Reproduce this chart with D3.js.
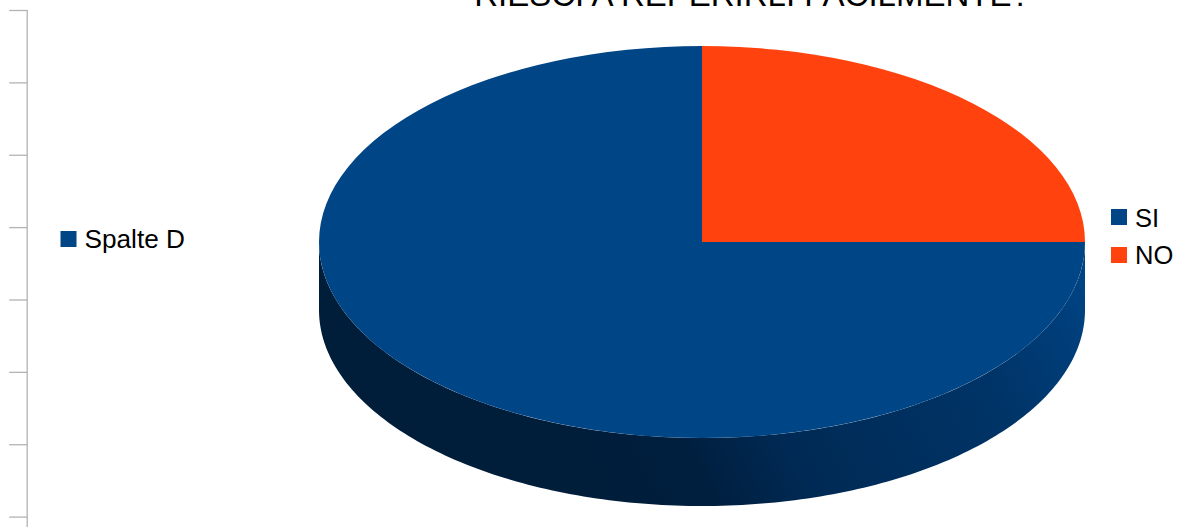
<!DOCTYPE html>
<html><head><meta charset="utf-8">
<script src="https://cdnjs.cloudflare.com/ajax/libs/d3/7.8.5/d3.min.js"></script>
<style>html,body{margin:0;padding:0;background:#fff}svg{display:block}text{font-family:"Liberation Sans",Arial,sans-serif;fill:#000}</style>
</head><body><svg id="c" width="1179" height="527"></svg>
<script>
const categories = ["SI", "NO"];
const values = [75, 25];
const colors = ["#004586", "#ff420e"];
const seriesLabel = ["Spalte D"];
const titleText = "RIESCI A REPERIRLI FACILMENTE?";
const axisTicks = [0, 1, 2, 3, 4, 5, 6, 7];

const svg = d3.select("#c");
const cx = 702, cy = 242, rx = 383, ry = 196, depth = 68;

// left stub axis
const axisY = d3.scaleLinear().domain([0, 7]).range([10, 516.6]);
const gAxis = svg.append("g").attr("transform", "translate(27.2,0)");
gAxis.call(d3.axisLeft(axisY).tickValues(axisTicks).tickSize(18).tickFormat(""));
gAxis.selectAll("path").attr("d", "M0,10V527").attr("stroke", "#b3b3b3").attr("stroke-width", 1.3).attr("fill", "none");
gAxis.selectAll("line").attr("stroke", "#b3b3b3").attr("stroke-width", 1.3);

// pie
const pie = d3.pie().sort(null).value(d => d).startAngle(Math.PI / 2).endAngle(Math.PI * 2.5);
const arcs = pie(values);
const arc = d3.arc().innerRadius(0).outerRadius(rx);

// side wall gradient
const defs = svg.append("defs");
const grad = defs.append("linearGradient").attr("id", "wall").attr("gradientUnits", "userSpaceOnUse")
  .attr("x1", 620).attr("y1", 500).attr("x2", 1085).attr("y2", 260);
[[0, "#001d3a"], [0.16, "#001f3f"], [0.34, "#002a55"], [0.73, "#003467"], [0.91, "#003e7a"], [1, "#004586"]]
  .forEach(s => grad.append("stop").attr("offset", s[0]).attr("stop-color", s[1]));

const wallAngles = d3.range(0, 181).map(i => Math.PI / 2 + i * Math.PI / 180);
const wall = d3.area()
  .x(a => cx + rx * Math.sin(a))
  .y0(a => cy - ry * Math.cos(a))
  .y1(a => cy - ry * Math.cos(a) + depth);
svg.append("path").attr("d", wall(wallAngles)).attr("fill", "url(#wall)");

svg.append("g").attr("transform", `translate(${cx},${cy}) scale(1,${ry / rx})`)
  .selectAll("path").data(arcs).join("path")
  .attr("d", arc).attr("fill", (d, i) => colors[i]);

// title
svg.append("text").attr("x", 752).attr("y", 5.5).attr("text-anchor", "middle")
  .attr("font-size", 33).text(titleText);

// legends
const lg = svg.append("g");
lg.selectAll("rect.s").data(seriesLabel).join("rect").attr("class", "s")
  .attr("x", 60.5).attr("y", 231).attr("width", 16).attr("height", 16).attr("fill", colors[0]);
lg.selectAll("text.s").data(seriesLabel).join("text").attr("class", "s")
  .attr("x", 84.5).attr("y", 248).attr("font-size", 26.2).text(d => d);
lg.selectAll("rect.c").data(categories).join("rect").attr("class", "c")
  .attr("x", 1111).attr("y", (d, i) => 209 + i * 38).attr("width", 16).attr("height", 16).attr("fill", (d, i) => colors[i]);
lg.selectAll("text.c").data(categories).join("text").attr("class", "c")
  .attr("x", 1135).attr("y", (d, i) => 226.5 + i * 37).attr("font-size", 25.5).text(d => d);
</script></body></html>
